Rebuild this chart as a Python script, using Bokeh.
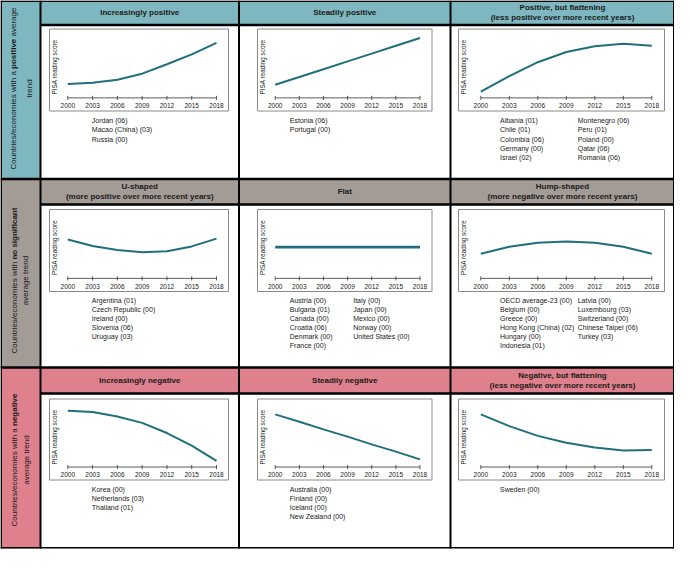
import math
from bokeh.plotting import figure
from bokeh.models import Range1d
from bokeh.core.properties import value
from bokeh.embed import file_html
from bokeh.resources import INLINE

# ---------------- data ----------------
YEARS = [2000, 2003, 2006, 2009, 2012, 2015, 2018]
TICK_LABELS = ["2000", "2003", "2006", "2009", "2012", "2015", "2018"]
Y_LABEL = "PISA reading score"

# schematic trajectories (relative position of the curve, 0 = bottom of panel, 100 = top)
increasingly_positive = [33, 34.5, 38, 45.5, 57, 69, 83]
steadily_positive = [32, 41.5, 51, 60.5, 70, 79.5, 89]
positive_flattening = [23.5, 42.5, 59.5, 72, 79, 82, 79.5]
u_shaped = [63.5, 55.5, 50.5, 48, 49, 55, 64.5]
flat = [54, 54, 54, 54, 54, 54, 54]
hump_shaped = [46, 54.5, 59.5, 61, 59.5, 54.5, 46]
increasingly_negative = [85.5, 84, 78.5, 70.5, 58, 42.5, 23.5]
steadily_negative = [81, 72, 62.5, 53.5, 44, 35, 25.5]
negative_flattening = [81, 66.5, 54.5, 46, 40, 36.5, 37]

HEADERS = [
    [["Increasingly positive"], ["Steadily positive"],
     ["Positive, but flattening", "(less positive over more recent years)"]],
    [["U-shaped", "(more positive over more recent years)"], ["Flat"],
     ["Hump-shaped", "(more negative over more recent years)"]],
    [["Increasingly negative"], ["Steadily negative"],
     ["Negative, but flattening", "(less negative over more recent years)"]],
]

ROW_LABELS = [
    [[("Countries/economies with a", "normal"), ("positive", "bold"), ("average", "normal")],
     [("trend", "normal")]],
    [[("Countries/economies with", "normal"), ("no significant", "bold")],
     [("average trend", "normal")]],
    [[("Countries/economies with a", "normal"), ("negative", "bold")],
     [("average trend", "normal")]],
]

COUNTRIES = [
    [
        [["Jordan (06)", "Macao (China) (03)", "Russia (00)"]],
        [["Estonia (06)", "Portugal (00)"]],
        [["Albania (01)", "Chile (01)", "Colombia (06)", "Germany (00)", "Israel (02)"],
         ["Montenegro (06)", "Peru (01)", "Poland (00)", "Qatar (06)", "Romania (06)"]],
    ],
    [
        [["Argentina (01)", "Czech Republic (00)", "Ireland (00)", "Slovenia (06)", "Uruguay (03)"]],
        [["Austria (00)", "Bulgaria (01)", "Canada (00)", "Croatia (06)", "Denmark (00)", "France (00)"],
         ["Italy (00)", "Japan (00)", "Mexico (00)", "Norway (00)", "United States (00)"]],
        [["OECD average-23 (00)", "Belgium (00)", "Greece (00)", "Hong Kong (China) (02)",
          "Hungary (00)", "Indonesia (01)"],
         ["Latvia (00)", "Luxembourg (03)", "Switzerland (00)", "Chinese Taipei (06)", "Turkey (03)"]],
    ],
    [
        [["Korea (00)", "Netherlands (03)", "Thailand (01)"]],
        [["Australia (00)", "Finland (00)", "Iceland (00)", "New Zealand (00)"]],
        [["Sweden (00)"]],
    ],
]

SERIES = [
    [increasingly_positive, steadily_positive, positive_flattening],
    [u_shaped, flat, hump_shaped],
    [increasingly_negative, steadily_negative, negative_flattening],
]

# ---------------- styles / layout ----------------
ROW_COLORS = ["#7FB7C1", "#A39B96", "#DF818D"]
LINE_COLOR = "#1F6F7E"
FRAME_COLOR = "#8A8A8A"
TEXT_COLOR = "#1A1A1A"
FONT = value("Liberation Sans")

W, H = 674, 552
X0, X1 = 8, 682
COL_X = [48, 246.5, 458, 682]
ROW_TOP = [8, 186.5, 375]
ROW_BOTTOM = [186.5, 375, 556]
HEAD_BOTTOM = [32.5, 212, 401]
LABEL_CENTER = [96, 288, 467.5]
LABEL_X = [[20.5, 37], [21.5, 33], [21.5, 33.5]]

FRAME_X = [(57, 236), (265, 439.5), (466, 672)]
TICK_X = [(75.3, 224), (282.7, 427.5), (488.3, 659.3)]
FRAME_Y = [(36.5, 118.5), (217, 299), (406.5, 487.5)]
LIST_X = [[99.3], [297.3, 360.7], [507.5, 585.2]]
LIST_Y0 = [128.3, 307.7, 496.8]
LIST_DY = 9.1

p = figure(width=W, height=H, x_range=Range1d(8, 8 + W), y_range=Range1d(8 + H, 8),
           output_backend="svg", toolbar_location=None, min_border=0,
           x_axis_location=None, y_axis_location=None)
p.grid.grid_line_color = None
p.outline_line_color = None
p.background_fill_color = "white"
p.border_fill_color = "white"

# background fills
for r in range(3):
    p.quad(left=[X0], right=[COL_X[0]], top=[ROW_TOP[r]], bottom=[ROW_BOTTOM[r]],
           fill_color=ROW_COLORS[r], line_color=None)
    p.quad(left=[COL_X[0]], right=[X1], top=[ROW_TOP[r]], bottom=[HEAD_BOTTOM[r]],
           fill_color=ROW_COLORS[r], line_color=None)

# Arial / Liberation Sans advance widths (per 1000 em)
REG = {" ": 278, "/": 278, "C": 722, "a": 556, "c": 500, "d": 556, "e": 556, "g": 556,
       "h": 556, "i": 222, "m": 833, "n": 556, "o": 556, "r": 333, "s": 500, "t": 278,
       "u": 556, "v": 500, "w": 722, "f": 278, "l": 222, "p": 556}
BLD = {" ": 278, "a": 556, "c": 556, "e": 556, "f": 333, "g": 611, "i": 278, "n": 611,
       "o": 611, "p": 611, "s": 556, "t": 333, "v": 556}


def tw(s, style, size):
    tab = BLD if style == "bold" else REG
    return sum(tab.get(ch, 556) for ch in s) * size / 1000.0


# row labels (rotated, mixed bold)
LS = 8.0
for r in range(3):
    for li, segs in enumerate(ROW_LABELS[r]):
        total = sum(tw(s, st, LS) for s, st in segs) + tw(" ", "normal", LS) * (len(segs) - 1)
        ypos = LABEL_CENTER[r] + total / 2.0
        for s, st in segs:
            p.text(x=[LABEL_X[r][li]], y=[ypos], text=[s], angle=math.pi / 2,
                   text_font=FONT, text_font_size=f"{LS}px", text_font_style=st,
                   text_align="left", text_baseline="middle", text_color=TEXT_COLOR)
            ypos -= tw(s, st, LS) + tw(" ", "normal", LS)

# headers
for r in range(3):
    for c in range(3):
        lines = HEADERS[r][c]
        cx = (COL_X[c] + COL_X[c + 1]) / 2.0
        cy = (ROW_TOP[r] + HEAD_BOTTOM[r]) / 2.0
        n = len(lines)
        ys = [cy] if n == 1 else [cy - 5, cy + 5]
        p.text(x=[cx] * n, y=ys, text=lines, text_font=FONT, text_font_size="8px",
               text_font_style="bold", text_align="center", text_baseline="middle",
               text_color=TEXT_COLOR)

# mini charts
for r in range(3):
    ytop, ybot = FRAME_Y[r]
    for c in range(3):
        fx0, fx1 = FRAME_X[c]
        tx0, tx1 = TICK_X[c]
        p.quad(left=[fx0], right=[fx1], top=[ytop], bottom=[ybot], fill_color="white",
               line_color=FRAME_COLOR, line_width=1)
        sub = p.subplot(x_source=Range1d(2000, 2018), y_source=Range1d(0, 100),
                        x_target=Range1d(tx0, tx1), y_target=Range1d(ybot, ytop))
        vals = SERIES[r][c]
        lw = 2.8 if (r == 1 and c == 1) else 2.0
        sub.line(x=YEARS, y=vals, line_color=LINE_COLOR, line_width=lw)
        # x axis
        sub.segment(x0=[YEARS[0]], y0=[16], x1=[YEARS[-1]], y1=[16],
                    line_color="#333333", line_width=0.8)
        sub.segment(x0=YEARS, y0=[13.5] * len(YEARS), x1=YEARS, y1=[18.5] * len(YEARS),
                    line_color="#333333", line_width=0.8)
        sub.text(x=YEARS, y=[6.5] * len(YEARS), text=TICK_LABELS, text_font=FONT,
                 text_font_size="6.5px", text_align="center", text_baseline="middle",
                 text_color=TEXT_COLOR)
        # y label
        p.text(x=[fx0 + 5], y=[ytop + 38], text=[Y_LABEL], angle=math.pi / 2,
               text_font=FONT, text_font_size="6.4px", text_align="center",
               text_baseline="middle", text_color=TEXT_COLOR)
        # country lists
        for k, col in enumerate(COUNTRIES[r][c]):
            p.text(x=[LIST_X[c][k]] * len(col),
                   y=[LIST_Y0[r] + LIST_DY * i for i in range(len(col))],
                   text=col, text_font=FONT, text_font_size="7px", text_align="left",
                   text_baseline="middle", text_color=TEXT_COLOR)

# table borders
# outer
p.segment(x0=[X0, X0, X0 + 0.75, X1 - 0.75], y0=[8.75, 555.25, 8, 8],
          x1=[X1, X1, X0 + 0.75, X1 - 0.75], y1=[8.75, 555.25, 556, 556],
          line_color="black", line_width=1.5)
# row separators
p.segment(x0=[X0, X0], y0=[ROW_TOP[1], ROW_TOP[2]], x1=[X1, X1], y1=[ROW_TOP[1], ROW_TOP[2]],
          line_color="black", line_width=2.5)
# header bottoms
p.segment(x0=[COL_X[0]] * 3, y0=HEAD_BOTTOM, x1=[X1] * 3, y1=HEAD_BOTTOM,
          line_color="black", line_width=2.5)
# verticals
p.segment(x0=COL_X[:3], y0=[8] * 3, x1=COL_X[:3], y1=[556] * 3,
          line_color="black", line_width=2)

open("out.html", "w").write(file_html(p, INLINE))
